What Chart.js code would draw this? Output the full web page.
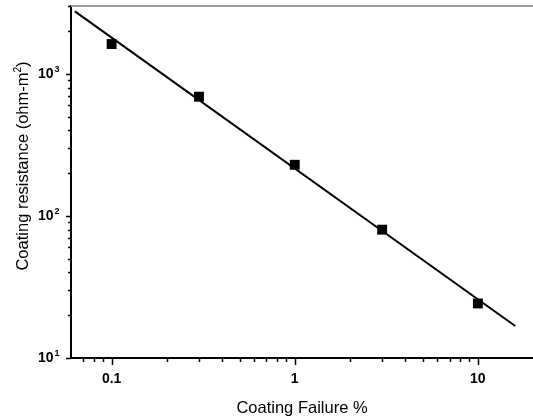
<!DOCTYPE html>
<html>
<head>
<meta charset="utf-8">
<script src="https://cdn.jsdelivr.net/npm/chart.js@4"></script>
<style>
  html, body { margin: 0; padding: 0; background: #fff; overflow: hidden; }
  canvas { display: block; }
</style>
</head>
<body>
<canvas id="coatingChart" width="533" height="420"></canvas>
<script>
const failurePct = [0.1, 0.3, 1, 3, 10];
const resistance = [1620, 690, 229, 80, 24.2];

// fitted power law, end points of the drawn line
const fitPct = [0.063, 16];
const fitResistance = [2750, 16.8];

const xMajor = [0.1, 1, 10];
const xMinor = [0.07, 0.08, 0.09, 0.2, 0.3, 0.4, 0.5, 0.6, 0.7, 0.8, 0.9,
    2, 3, 4, 5, 6, 7, 8, 9];
const yMajor = [10, 100, 1000];
const yExp = ["1", "2", "3"];
const yMinor = [20, 30, 40, 50, 60, 70, 80, 90, 200, 300, 400, 500, 600,
    700, 800, 900, 2000, 3000];

const FONT = "'Liberation Sans', Arial, Helvetica, sans-serif";

// ticks, top frame line, y labels with exponents and y title
const axisExtras = {
    id: "axisExtras",
    afterDraw(chart) {
        const ctx = chart.ctx;
        const area = chart.chartArea;
        const xs = chart.scales.x;
        const ys = chart.scales.y;

        ctx.save();
        ctx.strokeStyle = "#999";
        ctx.lineWidth = 2;
        ctx.beginPath();
        ctx.moveTo(area.left, area.top);
        ctx.lineTo(chart.width, area.top);
        ctx.stroke();

        ctx.strokeStyle = "#000";
        ctx.lineWidth = 1.5;
        ctx.beginPath();
        xMajor.concat(xMinor).forEach((v) => {
            const px = Math.round(xs.getPixelForValue(v)) + 0.5;
            const len = xMajor.includes(v) ? 7 : 4;
            ctx.moveTo(px, area.bottom);
            ctx.lineTo(px, area.bottom + len);
        });
        yMajor.concat(yMinor).forEach((v) => {
            const py = Math.round(ys.getPixelForValue(v)) + 0.5;
            const len = yMajor.includes(v) ? 5 : 3;
            ctx.moveTo(area.left, py);
            ctx.lineTo(area.left - len, py);
        });
        ctx.stroke();

        // 10^n labels
        ctx.fillStyle = "#000";
        yMajor.forEach((v, i) => {
            const py = ys.getPixelForValue(v);
            ctx.font = "bold 14px " + FONT;
            ctx.textAlign = "right";
            ctx.textBaseline = "middle";
            ctx.fillText("10", 53.5, py + 0.5);
            ctx.font = "bold 9px " + FONT;
            ctx.textAlign = "left";
            ctx.fillText(yExp[i], 54.5, py - 4);
        });

        // rotated y title with superscript
        const main = "Coating resistance (ohm-m";
        ctx.translate(28, (area.top + area.bottom) / 2 - 16);
        ctx.rotate(-Math.PI / 2);
        ctx.textBaseline = "alphabetic";
        ctx.textAlign = "left";
        ctx.font = "16.5px " + FONT;
        const w1 = ctx.measureText(main).width;
        const w3 = ctx.measureText(")").width;
        ctx.font = "10px " + FONT;
        const w2 = ctx.measureText("2").width;
        const x0 = -(w1 + w2 + w3) / 2;
        ctx.font = "16.5px " + FONT;
        ctx.fillText(main, x0, 0);
        ctx.font = "10px " + FONT;
        ctx.fillText("2", x0 + w1, -7);
        ctx.font = "16.5px " + FONT;
        ctx.fillText(")", x0 + w1 + w2, 0);
        ctx.restore();
    },
};

const ctx = document.getElementById("coatingChart").getContext("2d");
new Chart(ctx, {
    type: "scatter",
    data: {
        datasets: [
            {
                label: "fit",
                data: fitPct.map((x, i) => ({ x: x, y: fitResistance[i] })),
                showLine: true,
                borderColor: "#000",
                borderWidth: 2,
                pointRadius: 0,
                fill: false,
            },
            {
                label: "measured",
                data: failurePct.map((x, i) => ({ x: x, y: resistance[i] })),
                pointStyle: "rect",
                pointRadius: 7,
                pointBackgroundColor: "#000",
                pointBorderWidth: 0,
            },
        ],
    },
    options: {
        responsive: false,
        animation: false,
        layout: {
            autoPadding: false,
            padding: { top: 6, right: 0, left: 0, bottom: 0 },
        },
        plugins: { legend: { display: false }, tooltip: { enabled: false } },
        scales: {
            x: {
                type: "logarithmic",
                min: 0.06,
                max: 20,
                bounds: "data",
                afterBuildTicks: (s) => {
                    s.ticks = xMajor.map((v) => ({ value: v }));
                },
                afterFit: (s) => {
                    s.height = 62;
                    s.paddingLeft = 0;
                    s.paddingRight = 0;
                },
                grid: { display: false, drawTicks: false },
                border: { color: "#000", width: 2 },
                ticks: {
                    autoSkip: false,
                    maxRotation: 0,
                    padding: 13,
                    color: "#000",
                    font: { family: FONT, size: 14, weight: "bold" },
                    callback: (v) => String(v),
                },
                title: {
                    display: true,
                    text: "Coating Failure %",
                    color: "#000",
                    font: { family: FONT, size: 16.5 },
                    padding: { top: 0, bottom: 2 },
                },
            },
            y: {
                type: "logarithmic",
                min: 10,
                max: 3000,
                bounds: "data",
                afterFit: (s) => {
                    s.width = 71;
                    s.paddingTop = 0;
                    s.paddingBottom = 0;
                },
                grid: { display: false, drawTicks: false },
                border: { color: "#000", width: 2 },
                ticks: { display: false },
            },
        },
    },
    plugins: [axisExtras],
});
</script>
</body>
</html>
